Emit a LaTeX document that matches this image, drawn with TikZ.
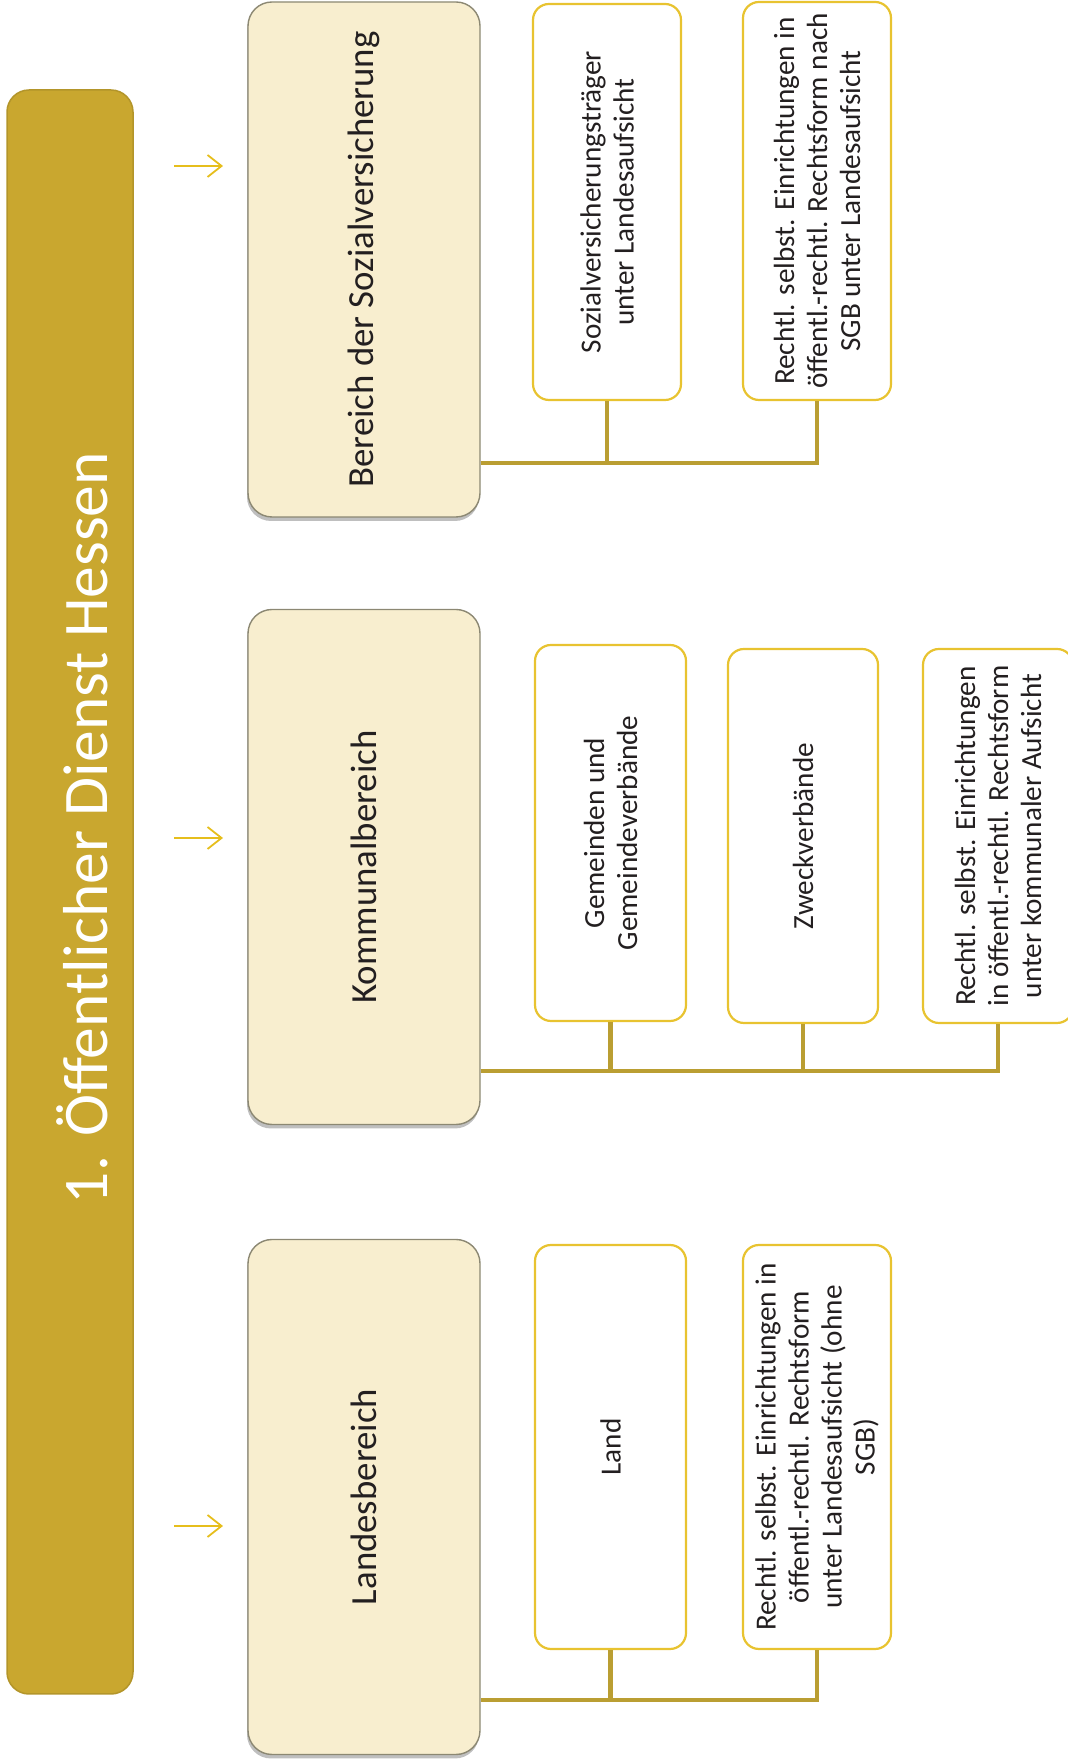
\documentclass[tikz,border=0pt]{standalone}
\usepackage{fontspec}
\setmainfont{Carlito}
\usetikzlibrary{arrows.meta,shadows}
\definecolor{barfill}{HTML}{C9A72F}
\definecolor{bardraw}{HTML}{B3952A}
\definecolor{headfill}{HTML}{F8EECF}
\definecolor{headdraw}{HTML}{8C8873}
\definecolor{childdraw}{HTML}{E8C330}
\definecolor{conncol}{HTML}{BA9E32}
\definecolor{arrowcol}{HTML}{E6BE1C}
\definecolor{txt}{HTML}{231F20}
\begin{document}
\begin{tikzpicture}[x=1pt,y=1pt,
  mainbar/.style={rectangle, rounded corners=22pt, fill=barfill, draw=bardraw, line width=1.5pt, rotate=90, minimum width=1604pt, minimum height=126pt, inner sep=0pt},
  titletext/.style={rotate=90, anchor=base, text=white, font=\fontsize{63.5}{70}\selectfont, inner sep=0pt},
  headbox/.style={rectangle, rounded corners=24pt, fill=headfill, draw=headdraw, line width=1.4pt, rotate=90, minimum width=515pt, minimum height=232pt, text=txt, font=\fontsize{36.8}{44}\selectfont, drop shadow={shadow xshift=-1pt, shadow yshift=-4pt, opacity=0.25, fill=black}},
  childbox/.style={rectangle, rounded corners=16pt, fill=white, draw=childdraw, line width=2.2pt, rotate=90, minimum height=148pt, text=txt, font=\fontsize{29.2}{33}\selectfont, align=center, inner sep=0pt},
  conn/.style={draw=conncol, line width=4.5pt},
  arr/.style={draw=arrowcol, line width=1.8pt, -{Straight Barb[length=14pt,width=22pt]}}]
\useasboundingbox (0,0) rectangle (1068,1762);

% main bar
\node[mainbar] (bar) at (70,870) {};
\node[titletext] (title) at (107,934) {1. Öffentlicher Dienst Hessen};

% arrows
\coordinate (as1) at (174,1596); \coordinate (ae1) at (223,1596);
\coordinate (as2) at (174,924);  \coordinate (ae2) at (223,924);
\coordinate (as3) at (174,236);  \coordinate (ae3) at (223,236);
\draw[arr] (as1) -- (ae1);
\draw[arr] (as2) -- (ae2);
\draw[arr] (as3) -- (ae3);

% header boxes
\node[headbox] (sozial) at (364,1502.5) {Bereich der Sozialversicherung};
\node[headbox] (kommunal) at (364,895) {Kommunalbereich};
\node[headbox] (landes) at (364,265) {Landesbereich};

% Sozialversicherung children
\node[childbox, minimum width=396pt] (s1) at (607,1560) {Sozialversicherungsträger\\unter Landesaufsicht};
\node[childbox, minimum width=398pt] (s2) at (817,1561) {Rechtl. selbst. Einrichtungen in\\öffentl.-rechtl. Rechtsform nach\\SGB unter Landesaufsicht};

% Kommunal children
\node[childbox, minimum width=376pt, minimum height=151pt] (k1) at (610.5,929) {Gemeinden und\\Gemeindeverbände};
\node[childbox, minimum width=374pt, minimum height=150pt] (k2) at (803,926) {Zweckverbände};
\node[childbox, minimum width=374pt, minimum height=150pt] (k3) at (998,926) {Rechtl. selbst. Einrichtungen\\in öffentl.-rechtl. Rechtsform\\unter kommunaler Aufsicht};

% Landes children
\node[childbox, minimum width=404pt, minimum height=151pt] (l1) at (610.5,315) {Land};
\node[childbox, minimum width=404pt] (l2) at (817,315) {Rechtl. selbst. Einrichtungen in\\öffentl.-rechtl. Rechtsform\\unter Landesaufsicht (ohne\\SGB)};

% connectors
\draw[conn] (sozial.south |- 0,1299) -| (s2.west);
\draw[conn] (s1.west) -- (s1.west |- 0,1299);

\draw[conn] (kommunal.south |- 0,691) -| (k3.west);
\draw[conn] (k1.west) -- (k1.west |- 0,691);
\draw[conn] (k2.west) -- (k2.west |- 0,691);

\draw[conn] (landes.south |- 0,62) -| (l2.west);
\draw[conn] (l1.west) -- (l1.west |- 0,62);
\end{tikzpicture}
\end{document}
